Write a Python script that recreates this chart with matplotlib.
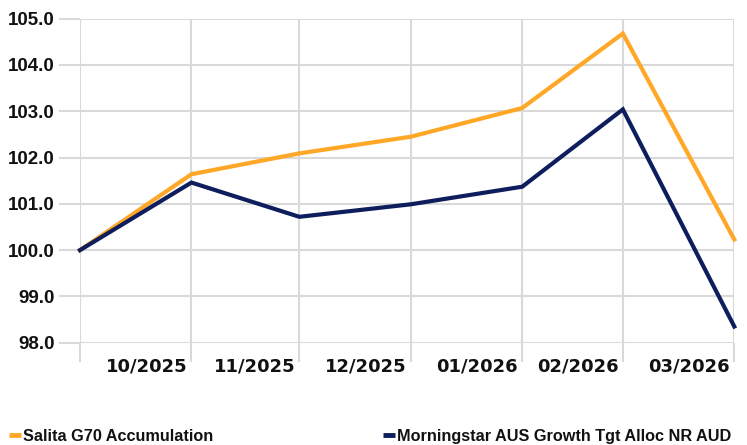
import matplotlib
matplotlib.use("Agg")
import matplotlib.pyplot as plt
import matplotlib.dates as mdates
import pandas as pd
from matplotlib.lines import Line2D

dates = ["2025-09-30", "2025-10-31", "2025-11-30", "2025-12-31",
         "2026-01-31", "2026-02-28", "2026-03-31"]
tick_labels = ["10/2025", "11/2025", "12/2025", "01/2026", "02/2026", "03/2026"]
salita = [100.0, 101.64, 102.09, 102.45, 103.07, 104.68, 100.23]
morningstar = [100.0, 101.46, 100.72, 100.99, 101.37, 103.04, 98.35]
series_names = ["Salita G70 Accumulation", "Morningstar AUS Growth Tgt Alloc NR AUD"]
y_ticks = [98.0, 99.0, 100.0, 101.0, 102.0, 103.0, 104.0, 105.0]

x = pd.to_datetime(dates)
ORANGE = "#FFA726"
NAVY = "#0E1D5C"
GRID = "#D9D9D9"
W, H = 747, 445

fig = plt.figure(figsize=(W / 100, H / 100), dpi=100)
ax = fig.add_axes([80 / W, 1 - 342.7 / H, (734.3 - 80) / W, (342.7 - 18.7) / H])

ax.plot(x, salita, color=ORANGE, lw=3.0, solid_joinstyle="miter", zorder=3, clip_on=False)
ax.plot(x, morningstar, color=NAVY, lw=3.0, solid_joinstyle="miter", zorder=3, clip_on=False)

ax.set_xlim(x[0], x[-1])
ax.set_ylim(98.0, 105.0)
ax.set_yticks(y_ticks)
ax.set_yticklabels([f"{v:.1f}" for v in y_ticks])
ax.set_xticks(x)
ax.set_xticklabels([])

ax.grid(True, color=GRID, lw=1.5, zorder=0)
for s in ax.spines.values():
    s.set_visible(False)
ax.tick_params(axis="y", length=15, width=1.5, color=GRID, pad=3,
               labelsize=13.5, labelcolor="#111111")
ax.tick_params(axis="x", length=14, width=1.5, color=GRID)
for lab in ax.get_yticklabels():
    lab.set_fontfamily(["Liberation Sans", "DejaVu Sans"])
    lab.set_fontweight("bold")

# month labels right-aligned at month-end gridlines
for d, lab in zip(x[1:], tick_labels):
    ax.annotate(lab, xy=(mdates.date2num(d), 98.0), xycoords="data",
                xytext=(-3, -10.5), textcoords="offset points",
                ha="right", va="top", fontsize=13, fontweight="bold",
                family=["DejaVu Sans"], color="#111111", annotation_clip=False)

legend_x = [9, 383]
colors = [ORANGE, NAVY]
for name, c, lx in zip(series_names, colors, legend_x):
    leg = fig.legend([Line2D([0], [0], color=c, lw=3.5, solid_capstyle="butt")], [name],
                     loc="lower left", bbox_to_anchor=(lx / W, 1 / H), frameon=False,
                     borderpad=0, borderaxespad=0,
                     handlelength=0.72, handletextpad=0.12,
                     prop={"family": ["Liberation Sans", "DejaVu Sans"],
                           "weight": "bold", "size": 11.7})
    for t in leg.get_texts():
        t.set_color("#111111")

fig.savefig("out.png", dpi=100)
